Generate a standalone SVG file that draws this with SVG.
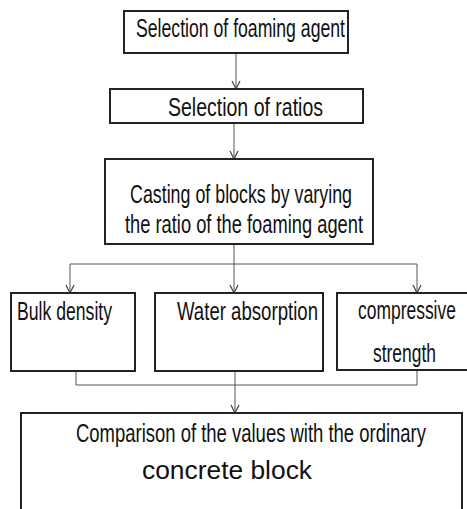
<svg xmlns="http://www.w3.org/2000/svg" width="467" height="509" viewBox="0 0 467 509">
<style>
.box{fill:#fff;stroke:#222;stroke-width:2}
.t{font-family:"Liberation Sans","DejaVu Sans",sans-serif;font-size:25px;fill:#111}
.c{fill:none;stroke:#555;stroke-width:1}
</style>
<defs>
<marker id="ah" markerUnits="userSpaceOnUse" markerWidth="10" markerHeight="10" refX="9" refY="5" orient="auto" viewBox="0 0 10 10">
<path d="M1,1 L9,5 L1,9" fill="none" stroke="#444" stroke-width="1.2"/>
</marker>
</defs>
<rect width="467" height="509" fill="#fff"/>
<g id="connectors">
<path class="c" d="M236,53 V89" marker-end="url(#ah)"/>
<path class="c" d="M234,123 V159" marker-end="url(#ah)"/>
<path class="c" d="M234,244 V293" marker-end="url(#ah)"/>
<path class="c" d="M70,264 H417"/>
<path class="c" d="M70,264 V293" marker-end="url(#ah)"/>
<path class="c" d="M417,264 V293" marker-end="url(#ah)"/>
<path class="c" d="M76,371 V385 H417 V370"/>
<path class="c" d="M235,371 V413" marker-end="url(#ah)"/>
</g>
<g id="n1">
<rect class="box" x="124" y="11" width="224" height="42"/>
<text class="t" x="136" y="37" font-size="26" textLength="209" lengthAdjust="spacingAndGlyphs">Selection of foaming agent</text>
</g>
<g id="n2">
<rect class="box" x="110" y="89" width="253" height="34"/>
<text class="t" x="168" y="116" textLength="155" lengthAdjust="spacingAndGlyphs">Selection of ratios</text>
</g>
<g id="n3">
<rect class="box" x="105" y="159" width="268" height="85"/>
<text class="t" x="130" y="203" textLength="222" lengthAdjust="spacingAndGlyphs">Casting of blocks by varying</text>
<text class="t" x="125" y="233" textLength="238" lengthAdjust="spacingAndGlyphs">the ratio of the foaming agent</text>
</g>
<g id="n4">
<rect class="box" x="11" y="293" width="124" height="78"/>
<text class="t" x="17" y="320" textLength="95" lengthAdjust="spacingAndGlyphs">Bulk density</text>
</g>
<g id="n5">
<rect class="box" x="155" y="293" width="168" height="78"/>
<text class="t" x="177" y="320" textLength="141" lengthAdjust="spacingAndGlyphs">Water absorption</text>
</g>
<g id="n6">
<rect class="box" x="337" y="293" width="140" height="77"/>
<text class="t" transform="translate(358,319) scale(0.698,1)">compressive</text>
<text class="t" x="373" y="362" textLength="63" lengthAdjust="spacingAndGlyphs">strength</text>
</g>
<g id="n7">
<rect class="box" x="21" y="413" width="441" height="110"/>
<text class="t" transform="translate(76,442) scale(0.739,1)">Comparison of the values with the ordinary</text>
<text class="t" x="142" y="479" textLength="170" lengthAdjust="spacingAndGlyphs">concrete block</text>
</g>
</svg>
